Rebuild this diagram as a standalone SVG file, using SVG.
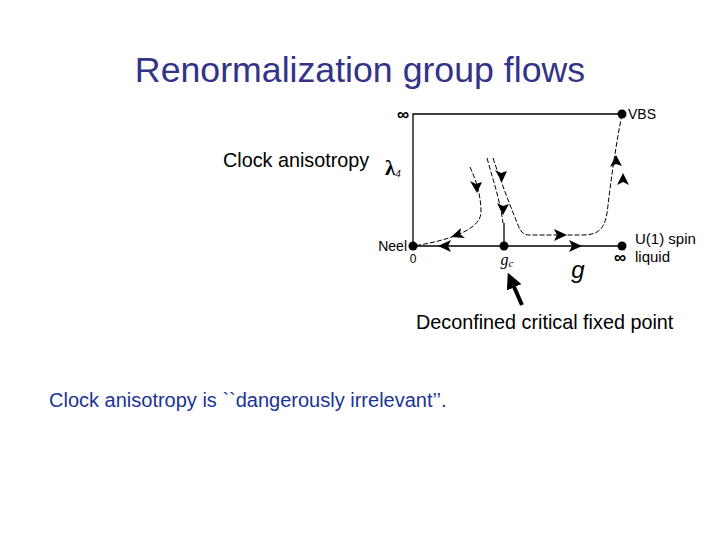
<svg xmlns="http://www.w3.org/2000/svg" width="720" height="540" viewBox="0 0 720 540">
<defs>
<style>
.t{font-family:"Liberation Sans",Arial,sans-serif}
.ax{stroke:#000;stroke-width:1.3;fill:none}
.fl{stroke:#000;stroke-width:1;fill:none;stroke-dasharray:5,2}
.ah{fill:#000}
.dot{fill:#000}
</style>
<marker id="big" markerWidth="4" markerHeight="4" refX="2" refY="2" orient="auto" markerUnits="strokeWidth"><path d="M0,0 L4,2 L0,4 z" fill="#000"/></marker>
</defs>
<rect width="720" height="540" fill="#fff"/>
<text class="t" x="360" y="82" font-size="35.7" fill="#333388" text-anchor="middle">Renormalization group flows</text>
<text class="t" x="223" y="167" font-size="19.8" fill="#000">Clock anisotropy</text>
<text class="t" x="416" y="329" font-size="19.8" fill="#000">Deconfined critical fixed point</text>
<text class="t" x="49" y="407" font-size="20" fill="#1a3399">Clock anisotropy is ``dangerously irrelevant’’.</text>

<g id="connectors">
<path class="ax" d="M413,246 V114 H622"/>
<path class="ax" d="M413,246 H622"/>
<path class="ax" d="M504,223 V246"/>
<path class="fl" d="M470,167 C476,180 481,195 481,212 C481,232 440,242 413,246"/>
<path class="fl" d="M487,158 C493,180 500,200 503,223"/>
<path class="fl" d="M493,158 C502,185 510,205 518,225 C521,233 524,235 530,235 L582,235 C600,235 606,228 608,205 C611,180 615,150 622,114"/>
<path d="M522,305 L511,280" stroke="#000" stroke-width="4" marker-end="url(#big)"/>
<g class="ah">
<path d="M438,246 l13,-6 l-3,6 l3,6 z"/>
<path d="M582,246 l-13,-6 l3,6 l-3,6 z"/>
<path d="M567,235 l-13,-6 l3,6 l-3,6 z"/>
<path d="M451,237 l10,-9 l-1,6 l5,4 z"/>
<path d="M477,193 l-7,-12 l6,3 l6,-2 z"/>
<path d="M503,215 l-6,-12 l6,3 l6,-2 z"/>
<path d="M502,182 l-7,-12 l6,3 l6,-2 z"/>
<path d="M616,155 l-6,12 l6,-3 l6,2 z"/>
<path d="M623,173 l-6,12 l6,-3 l6,3 z"/>
</g>
</g>

<g id="node-neel"><circle class="dot" cx="413" cy="246" r="4.5"/><text class="t" x="407" y="251" font-size="14" text-anchor="end">Neel</text><text class="t" x="413" y="263" font-size="12" text-anchor="middle">0</text></g>
<g id="node-gc"><circle class="dot" cx="504" cy="246" r="4.5"/><text x="507" y="265" font-size="16" font-style="italic" font-family="Liberation Serif,serif" text-anchor="middle">g<tspan font-size="11" dy="2">c</tspan></text></g>
<g id="node-u1"><circle class="dot" cx="622" cy="246" r="4.5"/><text class="t" x="635" y="244" font-size="15">U(1) spin</text><text class="t" x="635" y="262" font-size="15">liquid</text><text class="t" x="620" y="263" font-size="17" font-weight="bold" text-anchor="middle">∞</text></g>
<g id="node-vbs"><circle class="dot" cx="622" cy="114" r="4.5"/><text class="t" x="628" y="119" font-size="14">VBS</text></g>
<g id="labels">
<text class="t" x="403" y="120" font-size="17" font-weight="bold" text-anchor="middle">∞</text>
<text x="385" y="175" font-size="21" font-weight="bold" font-family="Liberation Serif,serif">λ<tspan font-size="11" font-style="italic" font-weight="normal" dy="2">4</tspan></text>
<text x="578" y="278" font-size="24" font-style="italic" font-family="Liberation Sans,sans-serif" text-anchor="middle">g</text>
</g>
</svg>
